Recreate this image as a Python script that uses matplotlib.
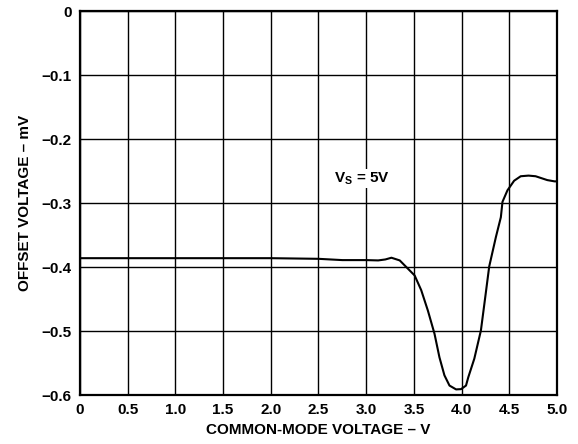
import numpy as np
import matplotlib.pyplot as plt

# offset voltage vs common-mode voltage, Vs = 5V
vcm = [0.0, 0.5, 1.0, 1.5, 2.0, 2.5, 2.75, 3.0, 3.125, 3.20, 3.264, 3.351, 3.438,
       3.507, 3.576, 3.646, 3.715, 3.767, 3.819, 3.872, 3.941, 3.993, 4.045, 4.069,
       4.132, 4.201, 4.25, 4.288, 4.358, 4.410, 4.427, 4.479, 4.549, 4.618, 4.70,
       4.774, 4.896, 4.972, 5.0]
vos = [-0.386, -0.386, -0.386, -0.386, -0.386, -0.387, -0.389, -0.389, -0.3895, -0.388,
       -0.3853, -0.3895, -0.4026, -0.413, -0.436, -0.468, -0.504, -0.541, -0.569, -0.585,
       -0.591, -0.5906, -0.585, -0.572, -0.543, -0.499, -0.443, -0.399, -0.353, -0.322,
       -0.298, -0.280, -0.265, -0.258, -0.257, -0.258, -0.264, -0.266, -0.266]

xticks = [0, 0.5, 1.0, 1.5, 2.0, 2.5, 3.0, 3.5, 4.0, 4.5, 5.0]
xlabels = ['0', '0.5', '1.0', '1.5', '2.0', '2.5', '3.0', '3.5', '4.0', '4.5', '5.0']
yticks = [0, -0.1, -0.2, -0.3, -0.4, -0.5, -0.6]
ylabels = ['0', '\u22120.1', '\u22120.2', '\u22120.3', '\u22120.4', '\u22120.5', '\u22120.6']

plt.rcParams['font.family'] = ['Liberation Sans', 'DejaVu Sans']
plt.rcParams['font.weight'] = 'bold'
plt.rcParams['mathtext.fontset'] = 'custom'
plt.rcParams['mathtext.rm'] = 'Liberation Sans:bold'
plt.rcParams['mathtext.bf'] = 'Liberation Sans:bold'
plt.rcParams['mathtext.it'] = 'Liberation Sans:bold'

fig = plt.figure(figsize=(5.78, 4.44), dpi=100)
ax = fig.add_axes([0.138, 0.11, 0.826, 0.865])

ax.plot(vcm, vos, color='black', lw=1.5, solid_joinstyle='round')

ax.set_xlim(0, 5.0)
ax.set_ylim(-0.6, 0)
ax.set_xticks(xticks)
ax.set_xticklabels(xlabels, fontsize=11, fontweight='bold')
ax.set_yticks(yticks)
ax.set_yticklabels(ylabels, fontsize=11, fontweight='bold')
ax.tick_params(length=0, pad=6)
ax.grid(True, color='black', lw=1.0)
for s in ax.spines.values():
    s.set_linewidth(1.6)

ax.set_xlabel('COMMON-MODE VOLTAGE \u2013 V', fontsize=11, fontweight='bold', labelpad=4)
ax.set_ylabel('OFFSET VOLTAGE \u2013 mV', fontsize=11, fontweight='bold', labelpad=7)

ax.text(2.66, -0.262, r'$\mathbf{V_S}$ = 5V', fontsize=11, fontweight='bold',
        va='center', ha='left',
        bbox=dict(facecolor='white', edgecolor='none', pad=1))

fig.savefig('out.png', dpi=100)
